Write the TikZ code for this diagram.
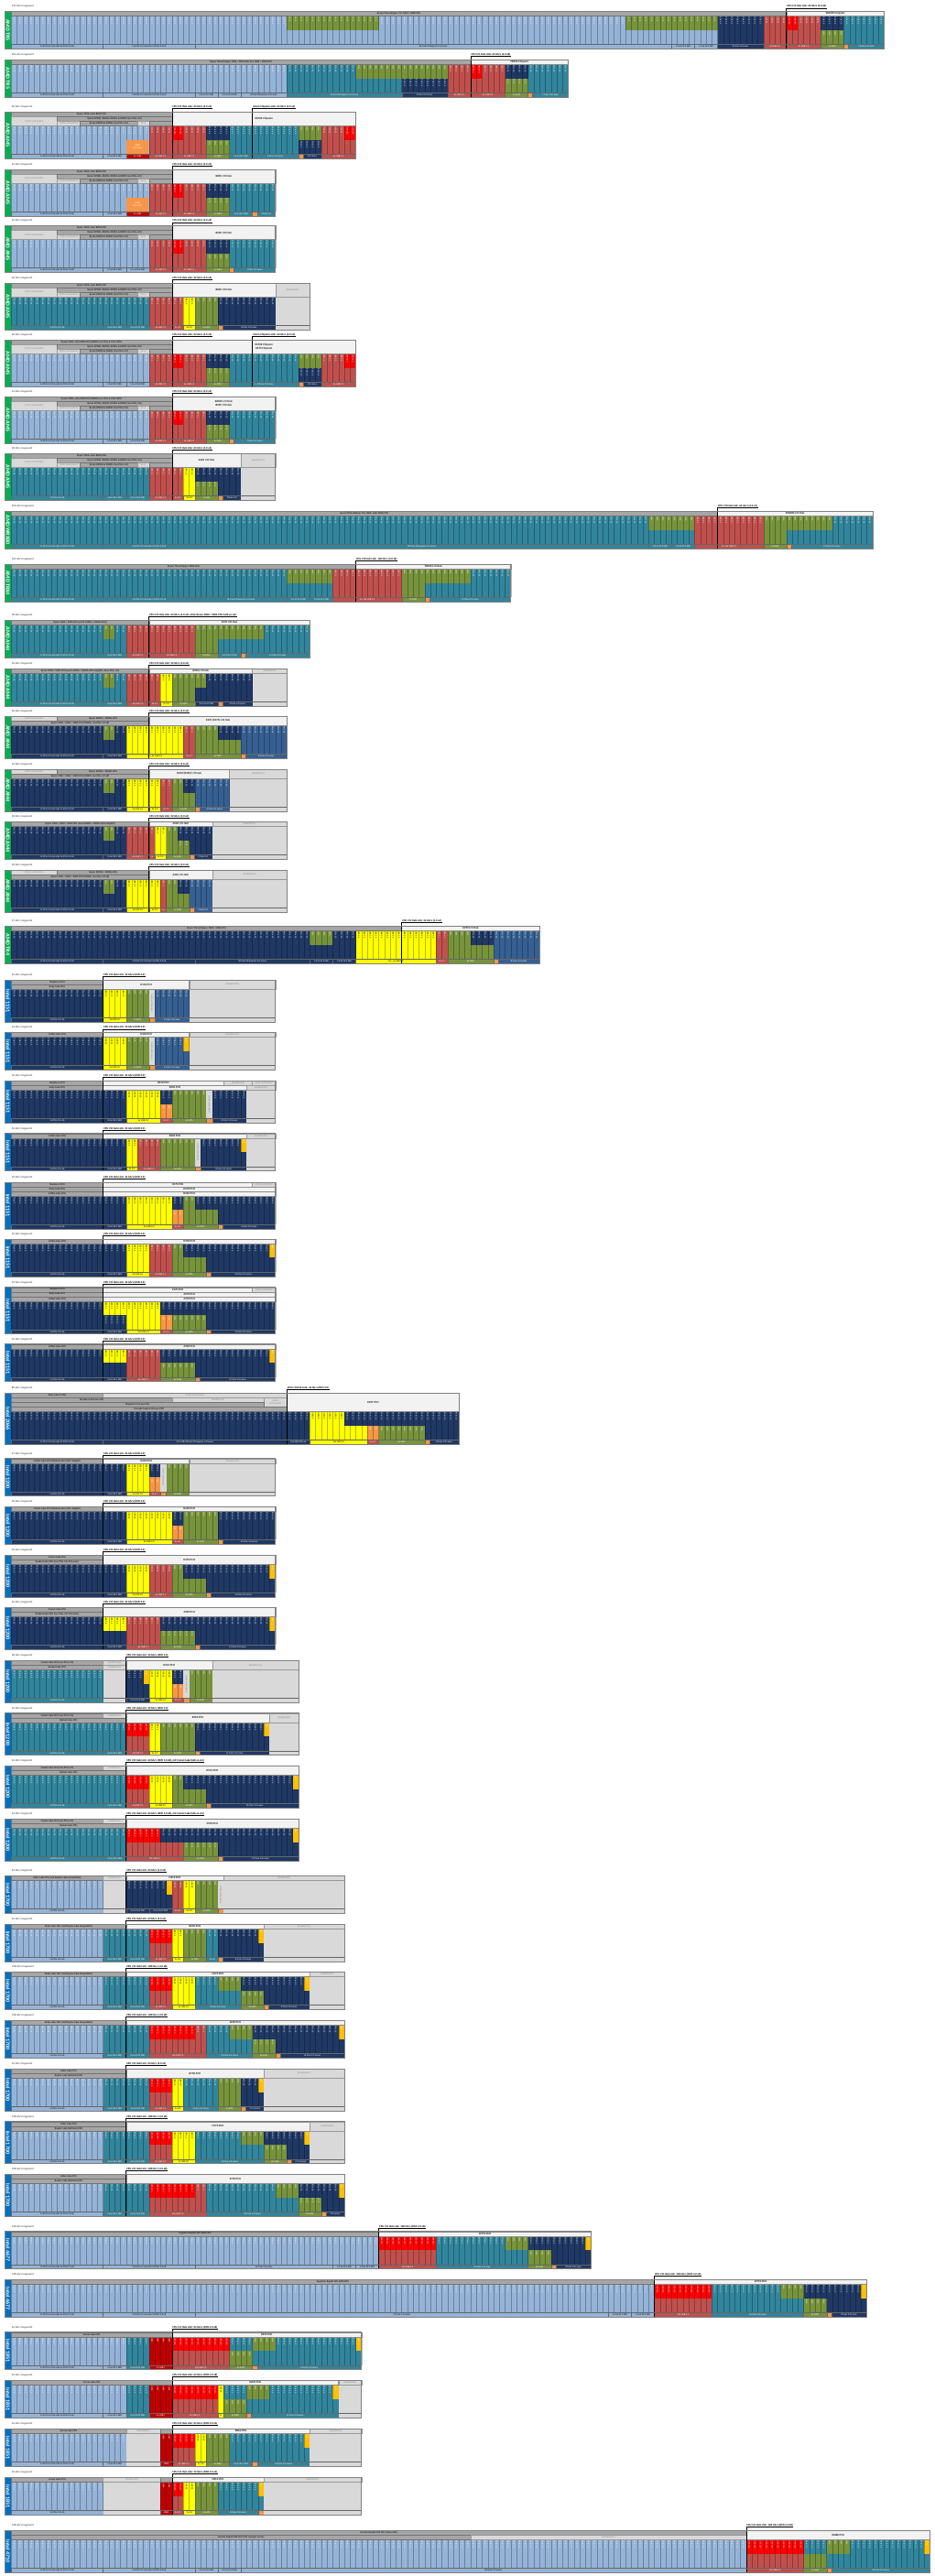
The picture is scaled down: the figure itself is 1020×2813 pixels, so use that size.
\documentclass[tikz,border=0pt]{standalone}
\usepackage{fontspec}
\setmainfont{Carlito}
\definecolor{cLB}{RGB}{149,179,215}
\definecolor{cTE}{RGB}{49,133,156}
\definecolor{cNV}{RGB}{31,56,100}
\definecolor{cMB}{RGB}{54,96,146}
\definecolor{cGR}{RGB}{119,147,60}
\definecolor{cRD}{RGB}{192,80,77}
\definecolor{cBR}{RGB}{255,0,0}
\definecolor{cYE}{RGB}{255,255,0}
\definecolor{cOR}{RGB}{247,150,70}
\definecolor{cAM}{RGB}{255,192,0}
\definecolor{cDR}{RGB}{192,0,0}
\definecolor{cHG}{RGB}{166,166,166}
\definecolor{cLG}{RGB}{217,217,217}
\definecolor{cCH}{RGB}{242,242,242}
\definecolor{cAMD}{RGB}{0,176,80}
\definecolor{cINT}{RGB}{0,112,192}
\def\txcLB{PCIe 5.0}\def\txcTE{PCIe 4.0}\def\txcNV{PCIe 3.0}\def\txcMB{PCIe 2.0}
\def\txcGR{SATA}\def\txcRD{USB 3.2}\def\txcBR{USB 20G}\def\txcYE{USB 3.0}
\def\txcDR{USB4}\def\txcAM{LAN}\def\txcOR{USB}\def\txcLG{}
\def\tccLB{white}\def\tccTE{white}\def\tccNV{white}\def\tccMB{white}\def\tccGR{white}
\def\tccRD{white}\def\tccBR{white}\def\tccYE{black}\def\tccDR{white}\def\tccAM{white}\def\tccOR{white}\def\tccLG{white}
\newcount\zcnt
\tikzset{
 lbl/.style={font=\fontsize{2.6}{3}\selectfont,inner sep=0pt},
 coltxt/.style={font=\fontsize{2.3}{6.27}\selectfont,inner sep=0pt,rotate=-90,anchor=north west},
 hg/.style={fill=cHG,draw=black!55,line width=0.3pt},
 na/.style={fill=cLG,draw=black!40,line width=0.3pt},
 ch/.style={fill=cCH,draw=black!45,line width=0.4pt},
 hgt/.style={font=\fontsize{2.8}{3}\selectfont\bfseries,inner sep=0pt,text=black!85},
 nat/.style={font=\fontsize{2.8}{3}\selectfont,inner sep=0pt,text=black!45},
 cht/.style={font=\fontsize{3.1}{3.6}\selectfont\bfseries,inner sep=0pt,text=black!85},
 tabt/.style={font=\fontsize{6}{6}\selectfont\bfseries,text=white,rotate=-90,inner sep=0pt},
 capt/.style={font=\fontsize{3}{3.5}\selectfont,inner sep=0.3pt,text=black!80},
 lkt/.style={font=\fontsize{3}{3.5}\selectfont\bfseries,inner sep=0.4pt},
 colsep/.style={line width=0.35pt,draw=black,draw opacity=0.28},
 lblsep/.style={line width=0.3pt,draw=black!60},
 linkl/.style={line width=0.7pt,draw=black},
 boxl/.style={line width=0.6pt,draw=black!50},
}
\newcommand\zR[6]{%
 \pgfmathsetmacro\yT{#1}\pgfmathsetmacro\yH{#1+5*#2}%
 \pgfmathsetmacro\yS{#1+31+5*#2}\pgfmathsetmacro\yB{#1+36+5*#2}%
 \pgfmathsetmacro\yM{(\yH+\yS)/2}\def\nC{#3}%
 \fill[#4] (-1.164,\yT) rectangle (0,\yB);
 \node[tabt] at (-0.582,{(\yT+\yB)/2}) {#5};
 \node[capt,anchor=south west] at (0,\yT-3.5) {#6};}
\newcommand\zTx[4]{\pgfmathtruncatemacro\zn{#2-#1}%
 \def\zlines{}\zcnt=0
 \loop\ifnum\zcnt<\zn \edef\zlines{\zlines\noexpand\hbox{\csname tx#4\endcsname}}\advance\zcnt by 1 \repeat
 \node[coltxt,text=\csname tc#4\endcsname] at (#2-0.32,#3) {\vbox{\baselineskip=6.27pt\lineskiplimit=-20pt\lineskip=0pt\zlines}};}
\newcommand\zF[3]{\fill[#3] (#1,\yH) rectangle (#2,\yS);\zTx{#1}{#2}{\yH+1.2}{#3}}
\newcommand\zU[3]{\fill[#3] (#1,\yH) rectangle (#2,\yM);\zTx{#1}{#2}{\yH+1.2}{#3}}
\newcommand\zD[3]{\fill[#3] (#1,\yM) rectangle (#2,\yS);\zTx{#1}{#2}{\yM+1.2}{#3}}
\newcommand\zL[5][white]{\fill[#4] (#2,\yS) rectangle (#3,\yB);\draw[lblsep] (#2,\yS)--(#2,\yB);\node[lbl,text=#1] at ({(#2+#3)/2},{(\yS+\yB)/2}) {#5};}
\newcommand\zC[2]{\foreach \i in {#1,...,#2}{\draw[colsep] (\i,\yH)--(\i,\yS);}}
\newcommand\zX[2]{\fill[cLG] (#1,\yH) rectangle (#2,\yB);}
\newcommand\zH[5]{\path[#4] (#2,{\yT+5*(#1-1)}) rectangle (#3,{\yT+5*#1});\node[#4t] at ({(#2+#3)/2},{\yT+5*#1-2.5}) {#5};}
\newcommand\zM[6]{\path[#5] (#3,{\yT+5*(#1-1)}) rectangle (#4,{\yT+5*#2});\node[#5t,align=center] at ({(#3+#4)/2},{\yT+2.5*(#1-1+#2)}) {#6};}
\newcommand\zK[2]{\node[lkt,anchor=south west] (lk) at (#1,\yT-3.5) {#2};\draw[linkl] (#1,\yB)--(#1,\yT-3.5)--(lk.south east);}
\newcommand\zB{\draw[line width=0.4pt,black!60] (0,\yS)--(\nC,\yS);\draw[boxl] (-1.164,\yT) rectangle (\nC,\yB);}
\newcommand\zNV[1]{\fill[cLG] (#1,\yH) rectangle (#1+1,\yS);\node[lbl,text=black!50,rotate=-90] at (#1+0.5,{(\yH+\yS)/2}) {(nicht vorhanden)};}
\newcommand\zUSBC[1]{\fill[cOR] (#1-1.95,\yM) rectangle (#1+1.95,\yS);\node[lbl,text=white,align=center] at (#1,{(\yM+\yS)/2}) {USB4\\Controller};}
\newcommand\zAMh[1]{\zH{1}{0}{28}{hg}{#1}\zM{2}{3}{0}{8}{na}{(nicht vorhanden)}\zH{2}{8}{28}{hg}{Ryzen 8700G, 8600G, 8500G \& 8400F (nur PCIe 4.0)}\zH{3}{8}{12}{na}{(nicht vorhanden)}\zH{3}{12}{22}{hg}{Ryzen 8500G \& 8300G (nur PCIe 4.0)}\zH{3}{22}{24}{na}{(n.v.)}\zH{3}{24}{28}{hg}{}}
\newcommand\zAMf{\zH{1}{0}{8}{na}{(nicht vorhanden)}\zH{1}{8}{24}{hg}{Ryzen 2000G / 3000G APU}\zH{2}{0}{24}{hg}{Ryzen 1000 / 2000 / 3000 CPU (3000G: nur PCIe 3.0 x8)}}
\newcommand\zSKh{\zH{1}{0}{16}{hg}{Skylake-S CPU}\zH{2}{0}{16}{hg}{Kaby Lake CPU}}
\newcommand\zSKKh{\zH{1}{0}{16}{hg}{Skylake-S CPU}\zH{2}{0}{16}{hg}{Kaby Lake CPU}\zH{3}{0}{16}{hg}{Coffee Lake CPU}}
\newcommand\zCMh{\zH{1}{0}{16}{hg}{Comet Lake CPU (nur PCIe 3.0)}\zH{1}{16}{20}{na}{(deaktiviert)}\zH{2}{0}{20}{hg}{Rocket Lake CPU}}
\newcommand\zADh{\zH{1}{0}{20}{hg}{Alder Lake CPU}\zH{2}{0}{20}{hg}{Raptor Lake (Refresh) CPU}}
\newcommand\zPA{1x PCIe 5.0 x16 oder 2x PCIe 5.0 x8}
\newcommand\zPB{1x PCIe 4.0 x16 oder 2x PCIe 4.0 x8}
\newcommand\zPC{1x PCIe 3.0 x16 oder 2x PCIe 3.0 x8}
\begin{document}
\begin{tikzpicture}[x=1pt,y=-1pt]
\useasboundingbox (0,0) rectangle (1020,2813);
\fill[white] (0,0) rectangle (1020,2813);
\begin{scope}[x=6.27pt,xshift=12.3pt]
% ---------- Row 1 TR5
\zR{12.5}{1}{152}{cAMD}{AMD TR5}{337-Gb/s insgesamt}
\zF{0}{123}{cLB}\zU{48}{64}{cGR}\zU{107}{123}{cGR}\zF{123}{131}{cNV}\zF{131}{141}{cRD}\zU{135}{137}{cBR}\zU{141}{145}{cNV}\zD{141}{145}{cGR}\zF{145}{152}{cTE}
\zC{0}{152}
\zL[black]{0}{16}{cLB}{\zPA}\zL[black]{16}{32}{cLB}{\zPA}\zL[black]{32}{115}{cLB}{84 freie PCIexpress 5.0 Lanes}\zL[black]{115}{119}{cLB}{5.0 x4 M.2 SSD}\zL[black]{119}{123}{cLB}{5.0 x4 M.2 SSD}
\zL{123}{131}{cNV}{8 freie 3.0 Lanes}\zL{131}{135}{cRD}{4x USB 3.2}\zL{135}{141}{cRD}{6x USB 3.2}\zL{141}{145}{cGR}{4x SATA}\zL{145}{145.8}{cOR}{}\zL{145.8}{152}{cTE}{7 freie 4.0 Lanes}
\zH{1}{0}{135}{hg}{Ryzen Threadripper Pro 7000 / 9000 CPU}\zH{1}{135}{152}{ch}{WRX90 Chipsatz}
\zK{135}{CPU I/O Hub Link: 64 Gb/s (4.0 x8)}\zB
% ---------- Row 2 TR5
\zR{65}{1}{97}{cAMD}{AMD TR5}{201-Gb/s insgesamt}
\zF{0}{48}{cLB}\zF{48}{68}{cTE}\zU{60}{76}{cGR}\zD{68}{76}{cNV}\zF{76}{86}{cRD}\zU{80}{82}{cBR}\zU{86}{90}{cNV}\zD{86}{90}{cGR}\zF{90}{97}{cTE}
\zC{0}{97}
\zL[black]{0}{16}{cLB}{\zPA}\zL[black]{16}{32}{cLB}{\zPA}\zL[black]{32}{36}{cLB}{5.0 x4 M.2 SSD}\zL[black]{36}{40}{cLB}{5.0 x4 M.2 SSD}\zL[black]{40}{48}{cLB}{8 freie PCIexpress 5.0 Lanes}
\zL{48}{68}{cTE}{20 freie PCIexpress 4.0 Lanes}\zL{68}{76}{cNV}{8 freie 3.0 Lanes}\zL{76}{80}{cRD}{4x USB 3.2}\zL{80}{86}{cRD}{6x USB 3.2}\zL{86}{90}{cGR}{4x SATA}\zL{90}{90.8}{cOR}{}\zL{90.8}{97}{cTE}{7 freie 4.0 Lanes}
\zH{1}{0}{80}{hg}{Ryzen Threadripper 7000 / 9000 oder Pro 7000 / 9000 CPU}\zH{1}{80}{97}{ch}{TRX50 Chipsatz}
\zK{80}{CPU I/O Hub Link: 64 Gb/s (4.0 x8)}\zB
% ---------- Row 3 AM5 X870E
\zR{122.3}{3}{60}{cAMD}{AMD AM5}{60-Gb/s insgesamt}
\zF{0}{24}{cLB}\zF{24}{34}{cRD}\zU{28}{30}{cBR}\zU{34}{38}{cNV}\zD{34}{38}{cGR}\zF{38}{50}{cTE}\zU{50}{54}{cGR}\zD{50}{54}{cNV}\zF{54}{60}{cRD}\zU{58}{60}{cBR}
\zC{0}{60}\zUSBC{22}
\zL[black]{0}{16}{cLB}{\zPA}\zL[black]{16}{20}{cLB}{5.0 x4 M.2 SSD}\zL{20}{24}{cDR}{2x USB4}\zL{24}{28}{cRD}{4x USB 3.2}\zL{28}{34}{cRD}{6x USB 3.2}\zL{34}{38}{cGR}{4x SATA}\zL{38}{42}{cTE}{4.0 x4 M.2 SSD}\zL{42}{50}{cTE}{8 freie 4.0 Lanes}\zL{50}{50.8}{cOR}{}\zL{50.8}{54}{cNV}{3.0 Lanes}\zL{54}{60}{cRD}{6x USB 3.2}
\zAMh{Ryzen 7000- oder 8000-CPU}\zM{1}{3}{28}{60}{ch}{X870E Chipsatz}
\zK{28}{CPU I/O Hub Link: 64 Gb/s (4.0 x4)}\zK{42}{Intern Chipsatz-Link: 64 Gb/s (4.0 x4)}\zB
% ---------- Row 4 AM5 B850
\zR{185}{3}{46}{cAMD}{AMD AM5}{44-Gb/s insgesamt}
\zF{0}{24}{cLB}\zF{24}{34}{cRD}\zU{28}{30}{cBR}\zU{34}{38}{cNV}\zD{34}{38}{cGR}\zF{38}{46}{cTE}
\zC{0}{46}\zUSBC{22}
\zL[black]{0}{16}{cLB}{\zPA}\zL[black]{16}{20}{cLB}{5.0 x4 M.2 SSD}\zL{20}{24}{cDR}{2x USB4}\zL{24}{28}{cRD}{4x USB 3.2}\zL{28}{34}{cRD}{6x USB 3.2}\zL{34}{38}{cGR}{4x SATA}\zL{38}{42}{cTE}{4.0 x4 M.2 SSD}\zL{42}{42.8}{cOR}{}\zL{42.8}{46}{cTE}{2 freie 4.0}
\zAMh{Ryzen 7000- oder 8000-CPU}\zM{1}{3}{28}{46}{ch}{B850 I/O Hub}
\zK{28}{CPU I/O Hub Link: 64 Gb/s (4.0 x4)}\zB
% ---------- Row 5 AM5 B650
\zR{246.5}{3}{46}{cAMD}{AMD AM5}{44-Gb/s insgesamt}
\zF{0}{24}{cLB}\zF{24}{34}{cRD}\zU{28}{30}{cBR}\zU{34}{38}{cNV}\zD{34}{38}{cGR}\zF{38}{46}{cTE}
\zC{0}{46}
\zL[black]{0}{16}{cLB}{\zPA}\zL[black]{16}{20}{cLB}{5.0 x4 M.2 SSD}\zL[black]{20}{24}{cLB}{5.0 x4 M.2 SSD}\zL{24}{28}{cRD}{4x USB 3.2}\zL{28}{34}{cRD}{6x USB 3.2}\zL{34}{38}{cGR}{4x SATA}\zL{38}{38.8}{cOR}{}\zL{38.8}{46}{cTE}{7 freie 4.0 Lanes}
\zAMh{Ryzen 7000- oder 8000-CPU}\zM{1}{3}{28}{46}{ch}{B650 I/O Hub}
\zK{28}{CPU I/O Hub Link: 64 Gb/s (4.0 x4)}\zB
% ---------- Row 6 AM5 B840
\zR{309}{3}{52}{cAMD}{AMD AM5}{36-Gb/s insgesamt}
\zF{0}{24}{cTE}\zF{24}{30}{cRD}\zF{30}{32}{cYE}\zF{32}{36}{cGR}\zF{36}{46}{cNV}
\zC{0}{46}\zX{46}{52}
\zL{0}{16}{cTE}{1x PCIe 4.0 x16}\zL{16}{20}{cTE}{4.0 x4 M.2 SSD}\zL{20}{24}{cTE}{4.0 x4 M.2 SSD}\zL{24}{28}{cRD}{4x USB 3.2}\zL{28}{30}{cRD}{2x 3.2}\zL[black]{30}{32}{cYE}{2x 3.0}\zL{32}{36}{cGR}{4x SATA}\zL{36}{36.8}{cOR}{}\zL{36.8}{46}{cNV}{8 freie 3.0 Lanes}
\zAMh{Ryzen 7000- oder 8000-CPU}\zM{1}{3}{28}{46}{ch}{B840 I/O Hub}\zM{1}{3}{46}{52}{na}{(deaktiviert)}
\zK{28}{CPU I/O Hub Link: 32 Gb/s (3.0 x4)}\zB
% ---------- Row 7 AM5 X670E
\zR{371}{3}{60}{cAMD}{AMD AM5}{60-Gb/s insgesamt}
\zF{0}{24}{cLB}\zF{24}{34}{cRD}\zU{28}{30}{cBR}\zU{34}{38}{cNV}\zD{34}{38}{cGR}\zF{38}{50}{cTE}\zU{50}{54}{cGR}\zD{50}{54}{cNV}\zF{54}{60}{cRD}\zU{58}{60}{cBR}
\zC{0}{60}
\zL[black]{0}{16}{cLB}{\zPA}\zL[black]{16}{20}{cLB}{5.0 x4 M.2 SSD}\zL[black]{20}{24}{cLB}{5.0 x4 M.2 SSD}\zL{24}{28}{cRD}{4x USB 3.2}\zL{28}{34}{cRD}{6x USB 3.2}\zL{34}{38}{cGR}{4x SATA}\zL{38}{50}{cTE}{4 + 8 freie 4.0 Lanes}\zL{50}{50.8}{cOR}{}\zL{50.8}{54}{cNV}{3.0 Lanes}\zL{54}{60}{cRD}{6x USB 3.2}
\zAMh{Ryzen 7000- oder 8000-CPU (8600G nur PCIe 4.0 für GPU)}\zM{1}{3}{28}{60}{ch}{X670E Chipsatz\\X670 Chipsatz}
\zK{28}{CPU I/O Hub Link: 64 Gb/s (4.0 x4)}\zK{42}{Intern Chipsatz-Link: 64 Gb/s (4.0 x4)}\zB
% ---------- Row 8 AM5 B650E
\zR{433}{3}{46}{cAMD}{AMD AM5}{44-Gb/s insgesamt}
\zF{0}{24}{cLB}\zF{24}{34}{cRD}\zU{28}{30}{cBR}\zU{34}{38}{cNV}\zD{34}{38}{cGR}\zF{38}{46}{cTE}
\zC{0}{46}
\zL[black]{0}{16}{cLB}{\zPA}\zL[black]{16}{20}{cLB}{5.0 x4 M.2 SSD}\zL[black]{20}{24}{cLB}{5.0 x4 M.2 SSD}\zL{24}{28}{cRD}{4x USB 3.2}\zL{28}{34}{cRD}{6x USB 3.2}\zL{34}{38}{cGR}{4x SATA}\zL{38}{38.8}{cOR}{}\zL{38.8}{46}{cTE}{7 freie 4.0 Lanes}
\zAMh{Ryzen 7000- oder 8000-CPU (8600G nur PCIe 4.0 für GPU)}\zM{1}{3}{28}{46}{ch}{B650E I/O Hub\\B650 I/O Hub}
\zK{28}{CPU I/O Hub Link: 64 Gb/s (4.0 x4)}\zB
% ---------- Row 9 AM5 A620
\zR{495}{3}{46}{cAMD}{AMD AM5}{28-Gb/s insgesamt}
\zF{0}{24}{cTE}\zF{24}{30}{cRD}\zF{30}{32}{cYE}\zF{32}{40}{cNV}\zD{32}{36}{cGR}
\zC{0}{40}\zX{40}{46}
\zL{0}{16}{cTE}{1x PCIe 4.0 x16}\zL{16}{20}{cTE}{4.0 x4 M.2 SSD}\zL{20}{24}{cTE}{4.0 x4 M.2 SSD}\zL{24}{28}{cRD}{4x USB 3.2}\zL{28}{30}{cRD}{2x 3.2}\zL[black]{30}{32}{cYE}{2x 3.0}\zL{32}{36}{cGR}{4x SATA}\zL{36}{36.8}{cOR}{}\zL{36.8}{40}{cNV}{3 freie 3.0}
\zAMh{Ryzen 7000- oder 8000-CPU}\zM{1}{3}{28}{40}{ch}{A620 I/O Hub}\zM{1}{3}{40}{46}{na}{(deaktiviert)}
\zK{28}{CPU I/O Hub Link: 64 Gb/s (4.0 x4)}\zB
% ---------- Row 10 WRX80
\zR{558}{1}{150}{cAMD}{AMD WRX80}{256-Gb/s insgesamt}
\zF{0}{119}{cTE}\zU{111}{119}{cGR}\zF{119}{131}{cRD}\zF{131}{135}{cGR}\zF{135}{150}{cTE}\zU{135}{143}{cGR}
\zC{0}{150}
\zL{0}{16}{cTE}{\zPB}\zL{16}{32}{cTE}{\zPB}\zL{32}{111}{cTE}{80 freie PCIexpress 4.0 Lanes}\zL{111}{115}{cTE}{4.0 x4 M.2 SSD}\zL{115}{119}{cTE}{4.0 x4 M.2 SSD}\zL{119}{131}{cRD}{4x + 8x USB 3.2}\zL{131}{135}{cGR}{4x SATA}\zL{135}{135.8}{cOR}{}\zL{135.8}{150}{cTE}{12 freie 4.0 Lanes}
\zH{1}{0}{123}{hg}{Ryzen Threadripper Pro 3000- oder 5000-CPU}\zH{1}{123}{150}{ch}{WRX80 I/O Hub}
\zK{123}{CPU I/O Hub Link: 64 Gb/s (4.0 x4)}\zB
% ---------- Row 11 TRX40
\zR{616}{1}{87}{cAMD}{AMD TRX4}{161-Gb/s insgesamt}
\zF{0}{56}{cTE}\zU{48}{56}{cGR}\zF{56}{68}{cRD}\zF{68}{72}{cGR}\zF{72}{87}{cTE}\zU{72}{80}{cGR}
\zC{0}{87}
\zL{0}{16}{cTE}{\zPB}\zL{16}{32}{cTE}{\zPB}\zL{32}{48}{cTE}{16 freie PCIexpress 4.0 Lanes}\zL{48}{52}{cTE}{4.0 x4 M.2 SSD}\zL{52}{56}{cTE}{4.0 x4 M.2 SSD}\zL{56}{68}{cRD}{4x + 8x USB 3.2}\zL{68}{72}{cGR}{4x SATA}\zL{72}{72.8}{cOR}{}\zL{72.8}{87}{cTE}{12 freie 4.0 Lanes}
\zH{1}{0}{60}{hg}{Ryzen Threadripper 3000 CPU}\zH{1}{60}{87}{ch}{TRX40 I/O Hub}
\zK{60}{CPU I/O Hub Link: 128 Gb/s (4.0 x8)}\zB
% ---------- Row 12 AM4 X570
\zR{677}{1}{52}{cAMD}{AMD AM4}{48-Gb/s insgesamt}
\zF{0}{20}{cTE}\zU{16}{18}{cGR}\zF{20}{32}{cRD}\zF{32}{36}{cGR}\zF{36}{52}{cTE}\zU{36}{44}{cGR}
\zC{0}{52}
\zL{0}{16}{cTE}{\zPB}\zL{16}{20}{cTE}{4.0 x4 M.2 SSD}\zL{20}{24}{cRD}{4x USB 3.2}\zL{24}{32}{cRD}{8x USB 3.2}\zL{32}{36}{cGR}{4x SATA}\zL{36}{40}{cTE}{4.0 x4 M.2 SSD}\zL{40}{40.8}{cOR}{}\zL{40.8}{52}{cTE}{12 freie 4.0 Lanes}
\zH{1}{0}{24}{hg}{Ryzen 3000 / 5000 CPU (nicht 3000G / 5000G APU)}\zH{1}{24}{52}{ch}{X570 I/O Hub}
\zK{24}{CPU I/O Hub Link: 64 Gb/s (4.0 x4), ohne Ryzen 3000 / 5000 CPU halb so viel}\zB
% ---------- Row 13 AM4 B550
\zR{730}{1}{48}{cAMD}{AMD AM4}{36-Gb/s insgesamt}
\zF{0}{20}{cTE}\zU{16}{18}{cGR}\zF{20}{26}{cRD}\zF{26}{28}{cYE}\zF{28}{32}{cGR}\zF{32}{42}{cNV}\zU{32}{34}{cGR}
\zC{0}{42}\zX{42}{48}
\zL{0}{16}{cTE}{\zPB}\zL{16}{20}{cTE}{4.0 x4 M.2 SSD}\zL{20}{24}{cRD}{4x USB 3.2}\zL{24}{26}{cRD}{2x 3.2}\zL[black]{26}{28}{cYE}{2x 3.0}\zL{28}{32}{cGR}{4x SATA}\zL{32}{36}{cNV}{3.0 x4 M.2 SSD}\zL{36}{36.8}{cOR}{}\zL{36.8}{42}{cNV}{6 freie 3.0 Lanes}
\zH{1}{0}{24}{hg}{Ryzen 3000 / 5000 CPU (auch 4000G / 5000G APU möglich, dann PCIe 3.0)}\zH{1}{24}{42}{ch}{B550 I/O Hub}\zH{1}{42}{48}{na}{(deaktiviert)}
\zK{24}{CPU I/O Hub Link: 32 Gb/s (3.0 x4)}\zB
% ---------- Row 14 AM4 X370
\zR{782}{2}{48}{cAMD}{AMD AM4}{36-Gb/s insgesamt}
\zF{0}{20}{cNV}\zU{16}{18}{cGR}\zF{20}{30}{cYE}\zF{30}{32}{cRD}\zF{32}{40}{cGR}\zU{36}{40}{cNV}\zF{40}{48}{cMB}
\zC{0}{48}
\zL{0}{16}{cNV}{\zPC}\zL{16}{20}{cNV}{3.0 x4 M.2 SSD}\zL[black]{20}{30}{cYE}{4x + 6x USB 3.0}\zL{30}{32}{cRD}{2x 3.1}\zL{32}{40}{cGR}{6x SATA}\zL{40}{40.8}{cOR}{}\zL{40.8}{48}{cMB}{8 freie 2.0 Lanes}
\zAMf\zM{1}{2}{24}{48}{ch}{X370 (X470) I/O Hub}
\zK{24}{CPU I/O Hub Link: 32 Gb/s (3.0 x4)}\zB
% ---------- Row 15 AM4 B350
\zR{840}{2}{48}{cAMD}{AMD AM4}{32-Gb/s insgesamt}
\zF{0}{20}{cNV}\zU{16}{18}{cGR}\zF{20}{26}{cYE}\zF{26}{28}{cRD}\zF{28}{32}{cGR}\zU{30}{32}{cNV}\zF{32}{38}{cMB}
\zC{0}{38}\zX{38}{48}
\zL{0}{16}{cNV}{\zPC}\zL{16}{20}{cNV}{3.0 x4 M.2 SSD}\zL[black]{20}{24}{cYE}{4x USB 3.0}\zL[black]{24}{26}{cYE}{2x 3.0}\zL{26}{28}{cRD}{2x 3.1}\zL{28}{32}{cGR}{4x SATA}\zL{32}{32.8}{cOR}{}\zL{32.8}{38}{cMB}{6 freie 2.0 Lanes}
\zAMf\zM{1}{2}{24}{38}{ch}{B350 (B450) I/O Hub}\zM{1}{2}{38}{48}{na}{(deaktiviert)}
\zK{24}{CPU I/O Hub Link: 32 Gb/s (3.0 x4)}\zB
% ---------- Row 16 AM4 A320
\zR{897}{1}{48}{cAMD}{AMD AM4}{30-Gb/s insgesamt}
\zF{0}{20}{cNV}\zU{16}{18}{cGR}\zF{20}{25}{cRD}\zF{25}{27}{cYE}\zF{27}{29}{cGR}\zF{29}{35}{cNV}\zD{29}{31}{cGR}
\zC{0}{35}\zX{35}{48}
\zL{0}{16}{cNV}{\zPC}\zL{16}{20}{cNV}{3.0 x4 M.2 SSD}\zL{20}{24}{cRD}{4x USB 3.1}\zL{24}{25}{cRD}{1x}\zL[black]{25}{27}{cYE}{2x 3.0}\zL{27}{31}{cGR}{4x SATA}\zL{31}{31.8}{cOR}{}\zL{31.8}{35}{cNV}{4 freie 3.0}
\zH{1}{0}{24}{hg}{Ryzen 1000 / 2000 / 3000 CPU (auch 4000G / 5000G APU möglich)}\zH{1}{24}{35}{ch}{A520 I/O Hub}\zH{1}{35}{48}{na}{(deaktiviert)}
\zK{24}{CPU I/O Hub Link: 32 Gb/s (3.0 x4)}\zB
% ---------- Row 17 AM4 A320
\zR{950}{2}{48}{cAMD}{AMD AM4}{28-Gb/s insgesamt}
\zF{0}{20}{cNV}\zU{16}{18}{cGR}\zF{20}{26}{cYE}\zF{26}{27}{cRD}\zF{27}{31}{cGR}\zU{29}{31}{cNV}\zF{31}{35}{cMB}
\zC{0}{35}\zX{35}{48}
\zL{0}{16}{cNV}{\zPC}\zL{16}{20}{cNV}{3.0 x4 M.2 SSD}\zL[black]{20}{24}{cYE}{4x USB 3.0}\zL[black]{24}{26}{cYE}{2x 3.0}\zL{26}{27}{cRD}{1x}\zL{27}{31}{cGR}{4x SATA}\zL{31}{31.8}{cOR}{}\zL{31.8}{35}{cMB}{4 freie 2.0}
\zAMf\zM{1}{2}{24}{35}{ch}{A320 I/O Hub}\zM{1}{2}{35}{48}{na}{(deaktiviert)}
\zK{24}{CPU I/O Hub Link: 32 Gb/s (3.0 x4)}\zB
% ---------- Row 18 TR4
\zR{1011}{1}{92}{cAMD}{AMD TR4}{97-Gb/s insgesamt}
\zF{0}{60}{cNV}\zU{52}{56}{cGR}\zF{60}{74}{cYE}\zF{74}{76}{cRD}\zF{76}{84}{cGR}\zU{80}{84}{cNV}\zF{84}{92}{cMB}
\zC{0}{92}
\zL{0}{16}{cNV}{\zPC}\zL{16}{32}{cNV}{\zPC}\zL{32}{52}{cNV}{20 freie PCIexpress 3.0 Lanes}\zL{52}{56}{cNV}{3.0 x4 M.2 SSD}\zL{56}{60}{cNV}{3.0 x4 M.2 SSD}\zL[black]{60}{74}{cYE}{8x + 6x USB 3.0}\zL{74}{76}{cRD}{2x 3.1}\zL{76}{84}{cGR}{8x SATA}\zL{84}{84.8}{cOR}{}\zL{84.8}{92}{cMB}{8 freie 2.0 Lanes}
\zH{1}{0}{68}{hg}{Ryzen Threadripper 1000 / 2000 CPU}\zH{1}{68}{92}{ch}{X399 I/O Hub}
\zK{68}{CPU I/O Hub Link: 32 Gb/s (3.0 x4)}\zB
% ---------- Row 19 Intel 1151
\zR{1070}{2}{46}{cINT}{Intel 1151}{24-Gb/s insgesamt}
\zF{0}{16}{cNV}\zF{16}{20}{cYE}\zF{20}{24}{cGR}\zF{25}{31}{cMB}
\zC{0}{31}\zNV{24}\zX{31}{46}
\zL{0}{16}{cNV}{1x PCIe 3.0 x16}\zL[black]{16}{20}{cYE}{4x USB 3.0}\zL{20}{24}{cGR}{4x SATA}\zL{24}{25}{cOR}{}\zL{25}{31}{cMB}{6 freie 2.0 Lanes}
\zSKh\zM{1}{2}{16}{31}{ch}{H110 PCH}\zM{1}{2}{31}{46}{na}{(deaktiviert)}
\zK{16}{CPU I/O Hub Link: 16 Gb/s (DMI 2.0)}\zB
% ---------- Row 20
\zR{1127.4}{1}{46}{cINT}{Intel 1151}{24-Gb/s insgesamt}
\zF{0}{16}{cNV}\zF{16}{20}{cYE}\zF{20}{24}{cGR}\zF{25}{31}{cMB}\zU{30}{31}{cAM}
\zC{0}{31}\zNV{24}\zX{31}{46}
\zL{0}{16}{cNV}{1x PCIe 3.0 x16}\zL[black]{16}{20}{cYE}{4x USB 3.0}\zL{20}{24}{cGR}{4x SATA}\zL{24}{25}{cOR}{}\zL{25}{31}{cMB}{6 freie 2.0 Lanes}
\zH{1}{0}{16}{hg}{Coffee Lake CPU}\zH{1}{16}{31}{ch}{H310 PCH}\zH{1}{31}{46}{na}{(deaktiviert)}
\zK{16}{CPU I/O Hub Link: 16 Gb/s (DMI 2.0)}\zB
% ---------- Row 21
\zR{1180.3}{2}{46}{cINT}{Intel 1151}{32-Gb/s insgesamt}
\zF{0}{20}{cNV}\zF{20}{26}{cYE}\zF{26}{28}{cNV}\zD{26}{28}{cOR}\zF{28}{34}{cGR}\zF{35}{41}{cNV}
\zC{0}{41}\zNV{34}\zX{41}{46}
\zL{0}{16}{cNV}{1x PCIe 3.0 x16}\zL{16}{20}{cNV}{3.0 x4 M.2 SSD}\zL[black]{20}{26}{cYE}{6x USB 3.0}\zL{26}{28}{cRD}{2x 3.1}\zL{28}{34}{cGR}{6x SATA}\zL{34}{35}{cOR}{}\zL{35}{41}{cNV}{8 freie 3.0 Lanes}
\zSKh\zH{1}{16}{37}{ch}{B150 PCH}\zH{1}{37}{42}{na}{(deaktiviert)}\zH{1}{42}{46}{na}{nicht vorhanden}\zH{2}{16}{41}{ch}{B250 PCH}\zH{2}{41}{46}{na}{(deaktiviert)}
\zK{16}{CPU I/O Hub Link: 32 Gb/s (DMI 3.0)}\zB
% ---------- Row 22
\zR{1237.7}{1}{46}{cINT}{Intel 1151}{32-Gb/s insgesamt}
\zF{0}{20}{cNV}\zF{20}{22}{cYE}\zF{22}{26}{cRD}\zF{26}{32}{cGR}\zF{33}{41}{cNV}\zU{40}{41}{cAM}
\zC{0}{41}\zNV{32}\zX{41}{46}
\zL{0}{16}{cNV}{1x PCIe 3.0 x16}\zL{16}{20}{cNV}{3.0 x4 M.2 SSD}\zL[black]{20}{22}{cYE}{2x 3.0}\zL{22}{26}{cRD}{4x USB 3.1}\zL{26}{32}{cGR}{6x SATA}\zL{32}{33}{cOR}{}\zL{33}{41}{cNV}{8 freie 3.0 Lanes}
\zH{1}{0}{16}{hg}{Coffee Lake CPU}\zH{1}{16}{41}{ch}{B360 PCH}\zH{1}{41}{46}{na}{(deaktiviert)}
\zK{16}{CPU I/O Hub Link: 32 Gb/s (DMI 3.0)}\zB
% ---------- Row 23
\zR{1290.9}{3}{46}{cINT}{Intel 1151}{32-Gb/s insgesamt}
\zF{0}{20}{cNV}\zF{20}{28}{cYE}\zF{28}{30}{cNV}\zD{28}{30}{cOR}\zF{30}{36}{cGR}\zU{32}{36}{cNV}\zF{36}{46}{cNV}
\zC{0}{46}
\zL{0}{16}{cNV}{1x PCIe 3.0 x16}\zL{16}{20}{cNV}{3.0 x4 M.2 SSD}\zL[black]{20}{28}{cYE}{8x USB 3.0}\zL{28}{30}{cRD}{2x 3.1}\zL{30}{36}{cGR}{6x SATA}\zL{36}{36.8}{cOR}{}\zL{36.8}{46}{cNV}{9 freie 3.0 Lanes}
\zSKKh\zH{1}{16}{42}{ch}{H170 PCH}\zH{1}{42}{46}{na}{nicht vorhanden}\zH{2}{16}{46}{ch}{H270 PCH}\zH{3}{16}{46}{ch}{B365 PCH}
\zK{16}{CPU I/O Hub Link: 32 Gb/s (DMI 3.0)}\zB
% ---------- Row 24
\zR{1352.9}{1}{46}{cINT}{Intel 1151}{32-Gb/s insgesamt}
\zF{0}{20}{cNV}\zF{20}{24}{cYE}\zF{24}{28}{cRD}\zF{28}{34}{cGR}\zU{30}{34}{cNV}\zF{34}{46}{cNV}\zU{45}{46}{cAM}
\zC{0}{46}
\zL{0}{16}{cNV}{1x PCIe 3.0 x16}\zL{16}{20}{cNV}{3.0 x4 M.2 SSD}\zL[black]{20}{24}{cYE}{4x USB 3.0}\zL{24}{28}{cRD}{4x USB 3.1}\zL{28}{34}{cGR}{6x SATA}\zL{34}{34.8}{cOR}{}\zL{34.8}{46}{cNV}{14 freie 3.0 Lanes}
\zH{1}{0}{16}{hg}{Coffee Lake CPU}\zH{1}{16}{46}{ch}{H370 PCH}
\zK{16}{CPU I/O Hub Link: 32 Gb/s (DMI 3.0)}\zB
% ---------- Row 25
\zR{1405.7}{3}{46}{cINT}{Intel 1151}{32-Gb/s insgesamt}
\zF{0}{16}{cNV}\zF{16}{26}{cYE}\zD{16}{20}{cNV}\zF{26}{28}{cNV}\zD{26}{28}{cOR}\zF{28}{34}{cNV}\zD{28}{34}{cGR}\zF{34}{46}{cNV}
\zC{0}{46}
\zL{0}{16}{cNV}{1x PCIe 3.0 x16}\zL{16}{20}{cNV}{3.0 x4 M.2 SSD}\zL[black]{20}{26}{cYE}{10x USB 3.0}\zL{26}{28}{cRD}{2x 3.1}\zL{28}{34}{cGR}{6x SATA}\zL{34}{34.8}{cOR}{}\zL{34.8}{46}{cNV}{13 freie 3.0 Lanes}
\zSKKh\zH{1}{16}{42}{ch}{Z170 PCH}\zH{1}{42}{46}{na}{nicht vorhanden}\zH{2}{16}{46}{ch}{Z270 PCH}\zH{3}{16}{46}{ch}{Z370 PCH}
\zK{16}{CPU I/O Hub Link: 32 Gb/s (DMI 3.0)}\zB
% ---------- Row 26
\zR{1467.7}{1}{46}{cINT}{Intel 1151}{32-Gb/s insgesamt}
\zF{0}{20}{cNV}\zU{16}{20}{cYE}\zF{20}{26}{cRD}\zF{26}{32}{cNV}\zD{26}{32}{cGR}\zF{32}{46}{cNV}\zU{45}{46}{cAM}
\zC{0}{46}
\zL{0}{16}{cNV}{1x PCIe 3.0 x16}\zL{16}{20}{cNV}{3.0 x4 M.2 SSD}\zL{20}{26}{cRD}{6x USB 3.1}\zL{26}{32}{cGR}{6x SATA}\zL{32}{32.8}{cOR}{}\zL{32.8}{46}{cNV}{14 freie 3.0 Lanes}
\zH{1}{0}{16}{hg}{Coffee Lake CPU}\zH{1}{16}{46}{ch}{Z390 PCH}
\zK{16}{CPU I/O Hub Link: 32 Gb/s (DMI 3.0)}\zB
% ---------- Row 27 Intel 2066
\zR{1521.2}{4}{78}{cINT}{Intel 2066}{80-Gb/s insgesamt}
\zF{0}{52}{cNV}\zF{52}{62}{cYE}\zU{58}{62}{cNV}\zF{62}{64}{cNV}\zD{62}{64}{cOR}\zF{64}{72}{cNV}\zD{64}{72}{cGR}\zF{72}{78}{cNV}
\zC{0}{78}
\zL{0}{16}{cNV}{\zPC}\zL{16}{48}{cNV}{0/12/28/32 freie PCIexpress 3.0 Lanes}\zL{48}{52}{cNV}{M.2 SSD PCIe x4}\zL[black]{52}{62}{cYE}{10x USB 3.0}\zL{62}{64}{cRD}{2x 3.1}\zL{64}{72}{cGR}{8x SATA}\zL{72}{72.8}{cOR}{}\zL{72.8}{78}{cNV}{8 freie 3.0 Lanes}
\zH{1}{0}{16}{hg}{Kaby Lake-X CPU}\zH{1}{16}{48}{na}{(nicht vorhanden)}\zH{2}{0}{28}{hg}{Skylake-X 28 Lane CPU}\zH{2}{28}{44}{na}{(deaktiviert)}\zM{2}{3}{44}{48}{na}{(nicht\\vorhanden)}\zH{3}{0}{44}{hg}{Skylake-X 44 Lane CPU}\zH{4}{0}{48}{hg}{Cascade Lake-X 48 Lane CPU}\zM{1}{4}{48}{78}{ch}{X299 PCH}
\zK{48}{CPU I/O Hub Link: 32 Gb/s (DMI 3.0)}\zB
% ---------- Row 28 Intel 1200
\zR{1592.7}{1}{46}{cINT}{Intel 1200}{27-Gb/s insgesamt}
\zF{0}{20}{cNV}\zF{20}{24}{cYE}\zF{24}{26}{cNV}\zD{24}{26}{cOR}\zF{27}{31}{cGR}
\zC{0}{31}\zNV{26}\zX{31}{46}
\zL{0}{16}{cNV}{1x PCIe 3.0 x16}\zL{16}{20}{cNV}{3.0 x4 M.2 SSD}\zL[black]{20}{24}{cYE}{4x USB 3.0}\zL{24}{26}{cRD}{2x 3.1}\zL{26}{27}{cOR}{}\zL{27}{31}{cGR}{4x SATA}
\zH{1}{0}{16}{hg}{Comet Lake CPU (Rocket Lake nicht möglich)}\zH{1}{16}{31}{ch}{H410 PCH}\zH{1}{31}{46}{na}{(deaktiviert)}
\zK{16}{CPU I/O Hub Link: 32 Gb/s (DMI 3.0)}\zB
% ---------- Row 29
\zR{1645.3}{1}{46}{cINT}{Intel 1200}{32-Gb/s insgesamt}
\zF{0}{20}{cNV}\zF{20}{28}{cYE}\zF{28}{30}{cNV}\zD{28}{30}{cOR}\zF{30}{36}{cGR}\zF{36}{46}{cNV}
\zC{0}{46}
\zL{0}{16}{cNV}{1x PCIe 3.0 x16}\zL{16}{20}{cNV}{3.0 x4 M.2 SSD}\zL[black]{20}{28}{cYE}{8x USB 3.0}\zL{28}{30}{cRD}{2x 3.1}\zL{30}{36}{cGR}{6x SATA}\zL{36}{36.8}{cOR}{}\zL{36.8}{46}{cNV}{10 freie 3.0 Lanes}
\zH{1}{0}{16}{hg}{Comet Lake CPU (Rocket Lake nicht möglich)}\zH{1}{16}{46}{ch}{B460 PCH}
\zK{16}{CPU I/O Hub Link: 32 Gb/s (DMI 3.0)}\zB
% ---------- Row 30
\zR{1698.3}{2}{46}{cINT}{Intel 1200}{32-Gb/s insgesamt}
\zF{0}{20}{cNV}\zF{20}{24}{cYE}\zF{24}{28}{cRD}\zF{28}{34}{cGR}\zU{30}{34}{cNV}\zF{34}{46}{cNV}\zU{45}{46}{cAM}
\zC{0}{46}
\zL{0}{16}{cNV}{1x PCIe 3.0 x16}\zL{16}{20}{cNV}{3.0 x4 M.2 SSD}\zL[black]{20}{24}{cYE}{4x USB 3.0}\zL{24}{28}{cRD}{4x USB 3.1}\zL{28}{34}{cGR}{6x SATA}\zL{34}{34.8}{cOR}{}\zL{34.8}{46}{cNV}{14 freie 3.0 Lanes}
\zH{1}{0}{16}{hg}{Comet Lake CPU}\zH{2}{0}{16}{hg}{Rocket Lake CPU (nur PCIe 3.0, 20 Lanes)}\zM{1}{2}{16}{46}{ch}{H470 PCH}
\zK{16}{CPU I/O Hub Link: 32 Gb/s (DMI 3.0)}\zB
% ---------- Row 31
\zR{1755}{2}{46}{cINT}{Intel 1200}{32-Gb/s insgesamt}
\zF{0}{20}{cNV}\zU{16}{20}{cYE}\zF{20}{26}{cRD}\zF{26}{32}{cNV}\zD{26}{32}{cGR}\zF{32}{46}{cNV}\zU{45}{46}{cAM}
\zC{0}{46}
\zL{0}{16}{cNV}{1x PCIe 3.0 x16}\zL{16}{20}{cNV}{3.0 x4 M.2 SSD}\zL{20}{26}{cRD}{6x USB 3.1}\zL{26}{32}{cGR}{6x SATA}\zL{32}{32.8}{cOR}{}\zL{32.8}{46}{cNV}{14 freie 3.0 Lanes}
\zH{1}{0}{16}{hg}{Comet Lake CPU}\zH{2}{0}{16}{hg}{Rocket Lake CPU (nur PCIe 3.0, 20 Lanes)}\zM{1}{2}{16}{46}{ch}{Z490 PCH}
\zK{16}{CPU I/O Hub Link: 32 Gb/s (DMI 3.0)}\zB
% ---------- Row 32
\zR{1813.3}{2}{50}{cINT}{Intel 1200}{28-Gb/s insgesamt}
\zF{0}{16}{cTE}\zF{20}{24}{cNV}\zU{23}{24}{cAM}\zF{24}{28}{cYE}\zF{28}{30}{cNV}\zD{28}{30}{cOR}\zF{31}{35}{cGR}
\zC{0}{16}\zC{20}{35}\zNV{30}\zX{16}{20}\zX{35}{50}
\zL{0}{16}{cTE}{1x PCIe 4.0 x16}\zL{20}{24}{cNV}{3.0 x4 M.2 SSD}\zL[black]{24}{28}{cYE}{4x USB 3.0}\zL{28}{30}{cRD}{2x 3.1}\zL{30}{31}{cOR}{}\zL{31}{35}{cGR}{4x SATA}
\zH{1}{0}{16}{hg}{Comet Lake CPU (nur PCIe 3.0)}\zH{1}{16}{20}{na}{(Anbindung)}\zH{2}{0}{16}{hg}{Rocket Lake CPU}\zH{2}{16}{20}{na}{(deaktiviert)}\zM{1}{2}{20}{35}{ch}{H510 PCH}\zM{1}{2}{35}{50}{na}{(deaktiviert)}
\zK{20}{CPU I/O Hub Link: 32 Gb/s (DMI 3.0)}\zB
% ---------- Row 33
\zR{1870.7}{2}{50}{cINT}{Intel 1200}{32-Gb/s insgesamt}
\zF{0}{20}{cTE}\zF{20}{24}{cRD}\zU{20}{24}{cBR}\zF{24}{26}{cYE}\zF{26}{32}{cGR}\zF{32}{45}{cNV}\zU{44}{45}{cAM}
\zC{0}{45}\zX{45}{50}
\zL{0}{16}{cTE}{1x PCIe 4.0 x16}\zL{16}{20}{cTE}{4.0 x4 M.2 SSD}\zL{20}{24}{cRD}{4x USB 3.2}\zL[black]{24}{26}{cYE}{2x 3.0}\zL{26}{32}{cGR}{6x SATA}\zL{32}{32.8}{cOR}{}\zL{32.8}{45}{cNV}{12 freie 3.0 Lanes}
\zCMh\zM{1}{2}{20}{45}{ch}{B560 PCH}\zM{1}{2}{45}{50}{na}{(deaktiviert)}
\zK{20}{CPU I/O Hub Link: 32 Gb/s (DMI 3.0)}\zB
% ---------- Row 34
\zR{1928.3}{2}{50}{cINT}{Intel 1200}{64-Gb/s insgesamt}
\zF{0}{20}{cTE}\zF{20}{24}{cRD}\zU{20}{24}{cBR}\zF{24}{28}{cYE}\zF{28}{34}{cGR}\zU{30}{34}{cNV}\zF{34}{50}{cNV}\zU{49}{50}{cAM}
\zC{0}{50}
\zL{0}{16}{cTE}{1x PCIe 4.0 x16}\zL{16}{20}{cTE}{4.0 x4 M.2 SSD}\zL{20}{24}{cRD}{4x USB 3.2}\zL[black]{24}{28}{cYE}{4x USB 3.0}\zL{28}{34}{cGR}{6x SATA}\zL{34}{34.8}{cOR}{}\zL{34.8}{50}{cNV}{20 freie 3.0 Lanes}
\zCMh\zM{1}{2}{20}{50}{ch}{H570 PCH}
\zK{20}{CPU I/O Hub Link: 64 Gb/s (DMI 3.0 x8), mit Comet Lake halb so viel}\zB
% ---------- Row 35
\zR{1986}{2}{50}{cINT}{Intel 1200}{64-Gb/s insgesamt}
\zF{0}{20}{cTE}\zF{20}{30}{cRD}\zU{20}{26}{cBR}\zU{26}{30}{cNV}\zF{30}{36}{cNV}\zD{30}{36}{cGR}\zF{36}{50}{cNV}\zU{49}{50}{cAM}
\zC{0}{50}
\zL{0}{16}{cTE}{1x PCIe 4.0 x16}\zL{16}{20}{cTE}{4.0 x4 M.2 SSD}\zL{20}{30}{cRD}{10x USB 3.2}\zL{30}{36}{cGR}{6x SATA}\zL{36}{36.8}{cOR}{}\zL{36.8}{50}{cNV}{24 freie 3.0 Lanes}
\zCMh\zM{1}{2}{20}{50}{ch}{Z590 PCH}
\zK{20}{CPU I/O Hub Link: 64 Gb/s (DMI 3.0 x8), mit Comet Lake halb so viel}\zB
% ---------- Row 36 Intel 1700
\zR{2048.3}{1}{58}{cINT}{Intel 1700}{64-Gb/s insgesamt}
\zF{0}{16}{cLB}\zF{20}{28}{cNV}\zU{27}{28}{cAM}\zF{28}{30}{cRD}\zF{30}{32}{cYE}\zF{32}{36}{cGR}
\zC{0}{16}\zC{20}{36}\zNV{36}\zX{16}{20}\zX{37}{58}
\zL[black]{0}{16}{cLB}{1x PCIe 5.0 x16}\zL{20}{24}{cNV}{3.0 x4 M.2 SSD}\zL{24}{28}{cNV}{3.0 x4 M.2 SSD}\zL{28}{30}{cRD}{2x 3.2}\zL[black]{30}{32}{cYE}{2x 3.0}\zL{32}{36}{cGR}{4x SATA}\zL{36}{37}{cOR}{}
\zH{1}{0}{16}{hg}{Alder Lake CPU (mit Raptor Lake kompatibel)}\zH{1}{16}{20}{na}{(deaktiviert)}\zH{1}{20}{37}{ch}{H610 PCH}\zH{1}{37}{58}{na}{(deaktiviert)}
\zK{20}{CPU I/O Hub Link: 64 Gb/s (4.0 x4)}\zB
% ---------- Row 37
\zR{2101}{1}{58}{cINT}{Intel 1700}{64-Gb/s insgesamt}
\zF{0}{16}{cLB}\zF{16}{24}{cTE}\zF{24}{28}{cRD}\zU{24}{28}{cBR}\zF{28}{30}{cYE}\zF{30}{34}{cGR}\zF{34}{36}{cTE}\zF{36}{44}{cNV}\zU{43}{44}{cAM}
\zC{0}{44}\zX{44}{58}
\zL[black]{0}{16}{cLB}{1x PCIe 5.0 x16}\zL{16}{20}{cTE}{4.0 x4 M.2 SSD}\zL{20}{24}{cTE}{4.0 x4 M.2 SSD}\zL{24}{28}{cRD}{4x USB 3.2}\zL[black]{28}{30}{cYE}{2x 3.0}\zL{30}{34}{cGR}{4x SATA}\zL{34}{36}{cTE}{2x 4.0}\zL{36}{36.8}{cOR}{}\zL{36.8}{44}{cNV}{8 freie 3.0 Lanes}
\zH{1}{0}{20}{hg}{Alder Lake CPU (mit Raptor Lake kompatibel)}\zH{1}{20}{44}{ch}{B660 PCH}\zH{1}{44}{58}{na}{(deaktiviert)}
\zK{20}{CPU I/O Hub Link: 64 Gb/s (4.0 x4)}\zB
% ---------- Row 38
\zR{2153.3}{1}{58}{cINT}{Intel 1700}{128-Gb/s insgesamt}
\zF{0}{16}{cLB}\zF{16}{24}{cTE}\zF{24}{28}{cRD}\zU{24}{28}{cBR}\zF{28}{32}{cYE}\zF{32}{40}{cTE}\zU{36}{40}{cGR}\zF{40}{44}{cNV}\zD{40}{44}{cGR}\zF{44}{52}{cNV}\zU{51}{52}{cAM}
\zC{0}{52}\zX{52}{58}
\zL[black]{0}{16}{cLB}{1x PCIe 5.0 x16}\zL{16}{20}{cTE}{4.0 x4 M.2 SSD}\zL{20}{24}{cTE}{4.0 x4 M.2 SSD}\zL{24}{28}{cRD}{4x USB 3.2}\zL[black]{28}{32}{cYE}{4x USB 3.0}\zL{32}{40}{cTE}{8 freie 4.0 Lanes}\zL{40}{44}{cGR}{4x SATA}\zL{44}{44.8}{cOR}{}\zL{44.8}{52}{cNV}{8 freie 3.0 Lanes}
\zH{1}{0}{20}{hg}{Alder Lake CPU (mit Raptor Lake kompatibel)}\zH{1}{20}{52}{ch}{H670 PCH}\zH{1}{52}{58}{na}{(deaktiviert)}
\zK{20}{CPU I/O Hub Link: 128 Gb/s (4.0 x8)}\zB
% ---------- Row 39
\zR{2206}{1}{58}{cINT}{Intel 1700}{128-Gb/s insgesamt}
\zF{0}{16}{cLB}\zF{16}{24}{cTE}\zF{24}{34}{cRD}\zU{24}{32}{cBR}\zF{34}{42}{cTE}\zU{38}{42}{cGR}\zF{42}{46}{cNV}\zD{42}{46}{cGR}\zF{46}{58}{cNV}\zU{57}{58}{cAM}
\zC{0}{58}
\zL[black]{0}{16}{cLB}{1x PCIe 5.0 x16}\zL{16}{20}{cTE}{4.0 x4 M.2 SSD}\zL{20}{24}{cTE}{4.0 x4 M.2 SSD}\zL{24}{34}{cRD}{10x USB 3.2}\zL{34}{42}{cTE}{12 freie 4.0 Lanes}\zL{42}{46}{cGR}{8x SATA}\zL{46}{46.8}{cOR}{}\zL{46.8}{58}{cNV}{16 freie 3.0 Lanes}
\zH{1}{0}{20}{hg}{Alder Lake CPU (mit Raptor Lake kompatibel)}\zH{1}{20}{58}{ch}{Z690 PCH}
\zK{20}{CPU I/O Hub Link: 128 Gb/s (4.0 x8)}\zB
% ---------- Row 40
\zR{2259}{2}{58}{cINT}{Intel 1700}{64-Gb/s insgesamt}
\zF{0}{16}{cLB}\zF{16}{24}{cTE}\zF{24}{28}{cRD}\zU{24}{28}{cBR}\zF{28}{30}{cYE}\zF{30}{36}{cTE}\zF{36}{40}{cGR}\zF{40}{44}{cNV}\zU{43}{44}{cAM}
\zC{0}{44}\zX{44}{58}
\zL[black]{0}{16}{cLB}{1x PCIe 5.0 x16}\zL{16}{20}{cTE}{4.0 x4 M.2 SSD}\zL{20}{24}{cTE}{4.0 x4 M.2 SSD}\zL{24}{28}{cRD}{4x USB 3.2}\zL[black]{28}{30}{cYE}{2x 3.0}\zL{30}{36}{cTE}{6 freie 4.0 Lanes}\zL{36}{40}{cGR}{4x SATA}\zL{40}{40.8}{cOR}{}\zL{40.8}{44}{cNV}{4 3.0 Lanes}
\zADh\zM{1}{2}{20}{44}{ch}{B760 PCH}\zM{1}{2}{44}{58}{na}{(deaktiviert)}
\zK{20}{CPU I/O Hub Link: 64 Gb/s (4.0 x4)}\zB
% ---------- Row 41
\zR{2316.7}{2}{58}{cINT}{Intel 1700}{128-Gb/s insgesamt}
\zF{0}{16}{cLB}\zF{16}{24}{cTE}\zF{24}{28}{cRD}\zU{24}{28}{cBR}\zF{28}{32}{cYE}\zF{32}{44}{cTE}\zU{40}{44}{cGR}\zF{44}{48}{cNV}\zD{44}{48}{cGR}\zF{48}{52}{cNV}\zU{51}{52}{cAM}
\zC{0}{52}\zX{52}{58}
\zL[black]{0}{16}{cLB}{1x PCIe 5.0 x16}\zL{16}{20}{cTE}{4.0 x4 M.2 SSD}\zL{20}{24}{cTE}{4.0 x4 M.2 SSD}\zL{24}{28}{cRD}{4x USB 3.2}\zL[black]{28}{32}{cYE}{4x USB 3.0}\zL{32}{44}{cTE}{12 freie 4.0 Lanes}\zL{44}{48}{cGR}{8x SATA}\zL{48}{48.8}{cOR}{}\zL{48.8}{52}{cNV}{4 3.0 Lanes}
\zADh\zM{1}{2}{20}{52}{ch}{H770 PCH}\zM{1}{2}{52}{58}{na}{(deaktiviert)}
\zK{20}{CPU I/O Hub Link: 128 Gb/s (4.0 x8)}\zB
% ---------- Row 42
\zR{2374}{2}{58}{cINT}{Intel 1700}{128-Gb/s insgesamt}
\zF{0}{16}{cLB}\zF{16}{24}{cTE}\zF{24}{34}{cRD}\zU{24}{32}{cBR}\zF{34}{50}{cTE}\zU{46}{50}{cGR}\zF{50}{54}{cNV}\zD{50}{54}{cGR}\zF{54}{58}{cNV}\zU{57}{58}{cAM}
\zC{0}{58}
\zL[black]{0}{16}{cLB}{\zPA}\zL{16}{20}{cTE}{4.0 x4 M.2 SSD}\zL{20}{24}{cTE}{4.0 x4 M.2 SSD}\zL{24}{34}{cRD}{10x USB 3.2}\zL{34}{50}{cTE}{20 freie 4.0 Lanes}\zL{50}{54}{cGR}{8x SATA}\zL{54}{54.8}{cOR}{}\zL{54.8}{58}{cNV}{3.0 Lanes}
\zADh\zM{1}{2}{20}{58}{ch}{Z790 PCH}
\zK{20}{CPU I/O Hub Link: 128 Gb/s (4.0 x8)}\zB
% ---------- Row 43 Intel 4677
\zR{2436.7}{1}{101}{cINT}{Intel 4677}{128-Gb/s insgesamt}
\zF{0}{64}{cLB}\zF{64}{74}{cRD}\zU{64}{74}{cBR}\zF{74}{90}{cTE}\zU{86}{90}{cGR}\zF{90}{94}{cNV}\zD{90}{94}{cGR}\zF{94}{101}{cNV}\zU{100}{101}{cAM}
\zC{0}{101}
\zL[black]{0}{16}{cLB}{\zPA}\zL[black]{16}{32}{cLB}{\zPA}\zL[black]{32}{56}{cLB}{24 freie 5.0 Lanes}\zL[black]{56}{60}{cLB}{5.0 x4 M.2 SSD}\zL[black]{60}{64}{cLB}{5.0 x4 M.2 SSD}\zL{64}{74}{cRD}{10x USB 3.2}\zL{74}{90}{cTE}{16 freie 4.0 Lanes}\zL{90}{94}{cGR}{8x SATA}\zL{94}{94.8}{cOR}{}\zL{94.8}{101}{cNV}{8 freie 3.0 Lanes}
\zH{1}{0}{64}{hg}{Sapphire Rapids WS-2400 CPU}\zH{1}{64}{101}{ch}{W790 PCH}
\zK{64}{CPU I/O Hub Link: 128 Gb/s (DMI 4.0 x8)}\zB
% ---------- Row 44
\zR{2489.3}{1}{149}{cINT}{Intel 4677}{128-Gb/s insgesamt}
\zF{0}{112}{cLB}\zF{112}{122}{cRD}\zU{112}{122}{cBR}\zF{122}{138}{cTE}\zU{134}{138}{cGR}\zF{138}{142}{cNV}\zD{138}{142}{cGR}\zF{142}{149}{cNV}\zU{148}{149}{cAM}
\zC{0}{149}
\zL[black]{0}{16}{cLB}{\zPA}\zL[black]{16}{32}{cLB}{\zPA}\zL[black]{32}{104}{cLB}{72 freie 5.0 Lanes}\zL[black]{104}{108}{cLB}{5.0 x4 M.2 SSD}\zL[black]{108}{112}{cLB}{5.0 x4 M.2 SSD}\zL{112}{122}{cRD}{10x USB 3.2}\zL{122}{138}{cTE}{16 freie 4.0 Lanes}\zL{138}{142}{cGR}{8x SATA}\zL{142}{142.8}{cOR}{}\zL{142.8}{149}{cNV}{8 freie 3.0 Lanes}
\zH{1}{0}{112}{hg}{Sapphire Rapids WS-3400 CPU}\zH{1}{112}{149}{ch}{W790 PCH}
\zK{112}{CPU I/O Hub Link: 128 Gb/s (DMI 4.0 x8)}\zB
% ---------- Row 45 Intel 1851
\zR{2546.7}{1}{61}{cINT}{Intel 1851}{64-Gb/s insgesamt}
\zF{0}{20}{cLB}\zF{20}{24}{cTE}\zF{24}{28}{cDR}\zF{28}{38}{cRD}\zU{28}{38}{cBR}\zF{38}{42}{cTE}\zD{38}{42}{cGR}\zF{42}{46}{cTE}\zU{42}{46}{cGR}\zF{46}{61}{cTE}\zU{60}{61}{cAM}
\zC{0}{61}
\zL[black]{0}{16}{cLB}{\zPA}\zL[black]{16}{20}{cLB}{5.0 x4 M.2 SSD}\zL{20}{24}{cTE}{4.0 x4 M.2 SSD}\zL{24}{28}{cDR}{2x USB4}\zL{28}{38}{cRD}{10x USB 3.2}\zL{38}{42}{cGR}{4x SATA}\zL{42}{42.8}{cOR}{}\zL{42.8}{61}{cTE}{24 freie 4.0 Lanes}
\zH{1}{0}{28}{hg}{Arrow Lake CPU}\zH{1}{28}{61}{ch}{Z890 PCH}
\zK{28}{CPU I/O Hub Link: 64 Gb/s (DMI 4.0 x8)}\zB
% ---------- Row 46
\zR{2599.3}{1}{61}{cINT}{Intel 1851}{64-Gb/s insgesamt}
\zF{0}{20}{cLB}\zF{20}{24}{cTE}\zF{24}{28}{cDR}\zF{28}{36}{cRD}\zU{28}{36}{cBR}\zF{36}{37}{cYE}\zF{37}{41}{cTE}\zD{37}{41}{cGR}\zF{41}{45}{cTE}\zU{41}{45}{cGR}\zF{45}{57}{cTE}\zU{56}{57}{cAM}
\zC{0}{57}\zX{57}{61}
\zL[black]{0}{16}{cLB}{\zPA}\zL[black]{16}{20}{cLB}{5.0 x4 M.2 SSD}\zL{20}{24}{cTE}{4.0 x4 M.2 SSD}\zL{24}{28}{cDR}{2x USB4}\zL{28}{36}{cRD}{8x USB 3.2}\zL[black]{36}{37}{cYE}{1x}\zL{37}{41}{cGR}{4x SATA}\zL{41}{41.8}{cOR}{}\zL{41.8}{57}{cTE}{14 freie 4.0 Lanes}
\zH{1}{0}{28}{hg}{Arrow Lake CPU}\zH{1}{28}{57}{ch}{Q870 PCH}\zH{1}{57}{61}{na}{(deaktiviert)}
\zK{28}{CPU I/O Hub Link: 64 Gb/s (DMI 4.0 x8)}\zB
% ---------- Row 47
\zR{2652.3}{1}{61}{cINT}{Intel 1851}{64-Gb/s insgesamt}
\zF{0}{20}{cLB}\zF{26}{28}{cDR}\zF{28}{32}{cRD}\zU{28}{32}{cBR}\zF{32}{34}{cYE}\zF{34}{38}{cGR}\zF{38}{52}{cTE}\zU{51}{52}{cAM}
\zC{0}{20}\zC{26}{52}\zX{20}{26}\zX{52}{61}
\zL[black]{0}{16}{cLB}{\zPA}\zL[black]{16}{20}{cLB}{5.0 x4 M.2 SSD}\zL{26}{28}{cDR}{USB4}\zL{28}{32}{cRD}{4x USB 3.2}\zL[black]{32}{34}{cYE}{2x 3.0}\zL{34}{38}{cGR}{4x SATA}\zL{38}{42}{cTE}{4.0 x4 M.2 SSD}\zL{42}{42.8}{cOR}{}\zL{42.8}{52}{cTE}{10 freie 4.0 Lanes}
\zH{1}{0}{20}{hg}{Arrow Lake CPU}\zH{1}{20}{26}{na}{(deaktiviert)}\zH{1}{26}{28}{hg}{}\zH{1}{28}{52}{ch}{B860 PCH}\zH{1}{52}{61}{na}{(deaktiviert)}
\zK{28}{CPU I/O Hub Link: 64 Gb/s (DMI 4.0 x4)}\zB
% ---------- Row 48
\zR{2705.3}{1}{61}{cINT}{Intel 1851}{32-Gb/s insgesamt}
\zF{0}{16}{cLB}\zF{26}{28}{cDR}\zF{28}{30}{cRD}\zU{28}{30}{cBR}\zF{30}{32}{cYE}\zF{32}{36}{cGR}\zF{36}{44}{cTE}\zU{43}{44}{cAM}
\zC{0}{16}\zC{26}{44}\zX{16}{26}\zX{44}{61}
\zL[black]{0}{16}{cLB}{1x PCIe 5.0 x16}\zL{26}{28}{cDR}{USB4}\zL{28}{30}{cRD}{2x 3.2}\zL[black]{30}{32}{cYE}{2x 3.0}\zL{32}{36}{cGR}{4x SATA}\zL{36}{43}{cTE}{8 freie 4.0 Lanes}\zL{43}{44}{cOR}{}
\zH{1}{0}{16}{hg}{Arrow Lake CPU}\zH{1}{16}{26}{na}{(deaktiviert)}\zH{1}{26}{28}{hg}{}\zH{1}{28}{44}{ch}{H810 PCH}\zH{1}{44}{61}{na}{(deaktiviert)}
\zK{28}{CPU I/O Hub Link: 32 Gb/s (DMI 4.0 x4)}\zB
% ---------- Row 49
\zR{2763.3}{2}{160}{cINT}{Intel 4710}{128-Gb/s insgesamt}
\zF{0}{128}{cLB}\zF{128}{138}{cRD}\zU{128}{138}{cBR}\zF{138}{142}{cGR}\zU{138}{142}{cTE}\zF{142}{146}{cTE}\zU{142}{146}{cGR}\zF{146}{160}{cTE}\zU{159}{160}{cAM}
\zC{0}{160}
\zL[black]{0}{16}{cLB}{\zPA}\zL[black]{16}{32}{cLB}{\zPA}\zL[black]{32}{36}{cLB}{5.0 x4 M.2 SSD}\zL[black]{36}{40}{cLB}{5.0 x4 M.2 SSD}\zL[black]{40}{128}{cLB}{88 freie 5.0 Lanes}\zL{128}{138}{cRD}{10x USB 3.2}\zL{138}{142}{cGR}{4x SATA}\zL{142}{142.8}{cOR}{}\zL{142.8}{160}{cTE}{16 freie 4.0 Lanes}
\zH{1}{0}{128}{hg}{Granite Rapids-WS CPU (Xeon 600)}\zH{2}{0}{80}{hg}{Granite Rapids-WS CPU (mit weniger Lanes)}\zH{2}{80}{128}{na}{(deaktiviert)}\zM{1}{2}{128}{160}{ch}{W880 PCH}
\zK{128}{CPU I/O Hub Link: 128 Gb/s (DMI 4.0 x8)}\zB
\end{scope}
\end{tikzpicture}
\end{document}
